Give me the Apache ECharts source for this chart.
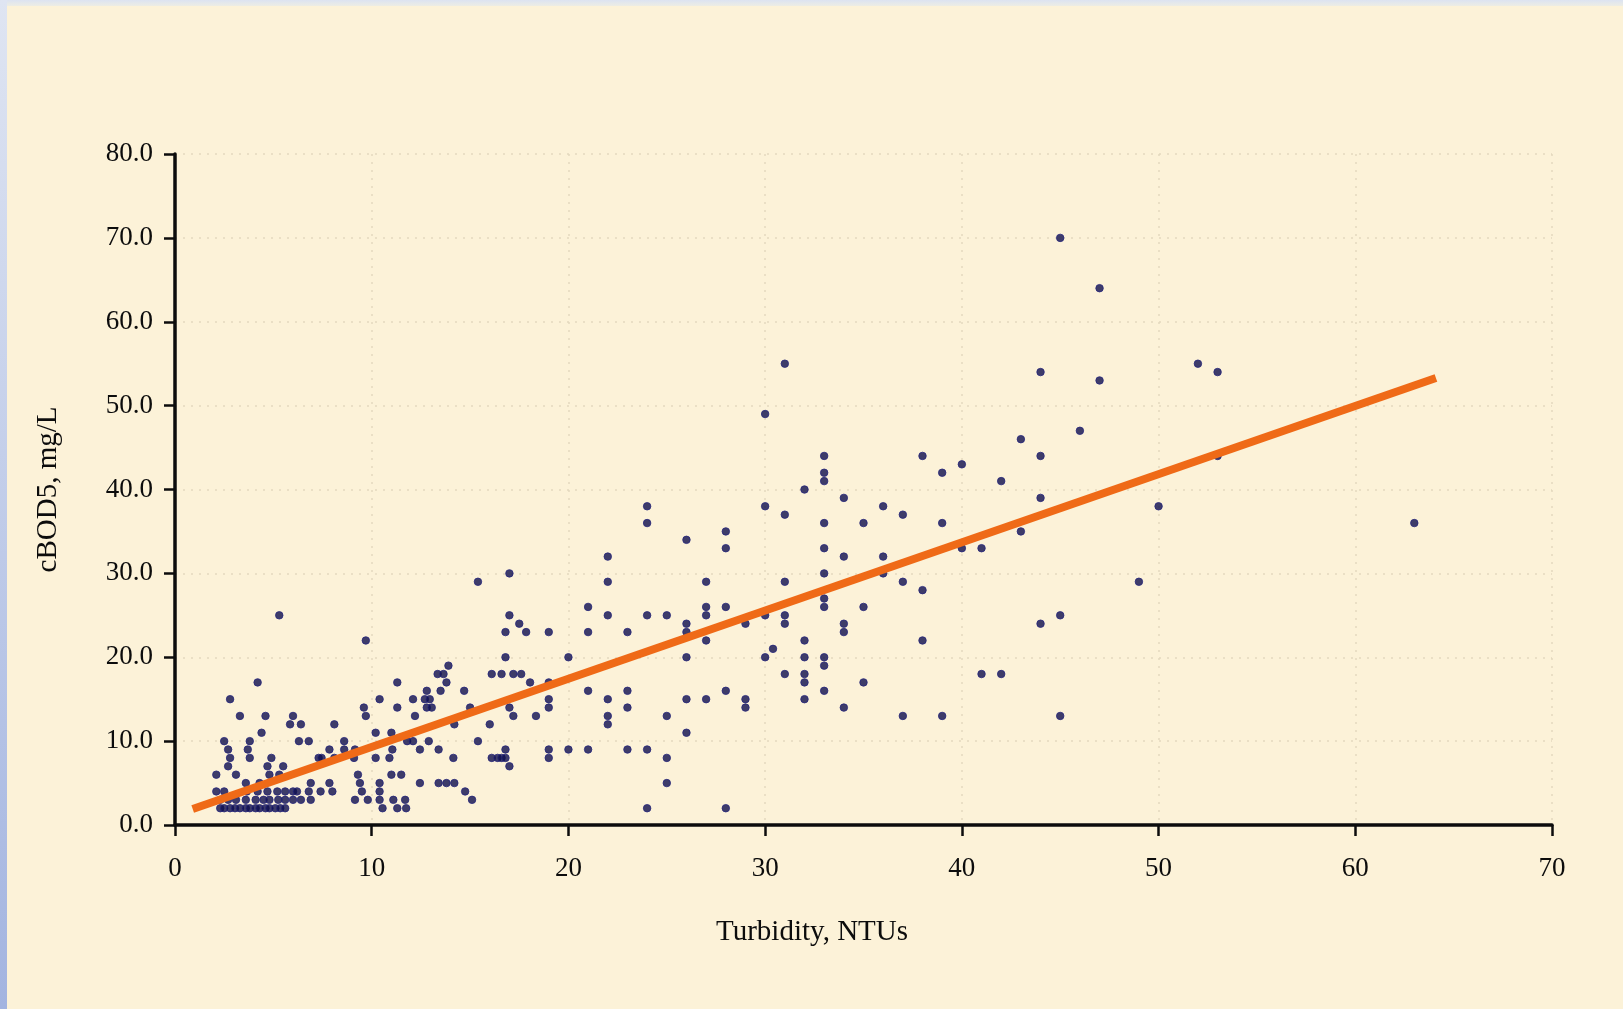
<!DOCTYPE html>
<html>
<head>
<meta charset="utf-8">
<script src="https://cdn.jsdelivr.net/npm/echarts@6/dist/echarts.min.js"></script>
<style>
html,body{margin:0;padding:0;width:1623px;height:1009px;overflow:hidden;background:#FCF2D8;}
#topband{position:absolute;left:0;top:0;width:1623px;height:6px;background:linear-gradient(#DCE3F1,#EDEDE4);}
#leftband{position:absolute;left:0;top:0;width:7px;height:1009px;background:linear-gradient(#DFE5F2,#A3B4E0);}
#chart{position:absolute;left:0;top:0;width:1623px;height:1009px;}
</style>
</head>
<body>
<div id="topband"></div>
<div id="leftband"></div>
<div id="chart"></div>
<script>
const lowTurbidity = [
  [2.1,6],[2.1,4],[2.3,3],[2.3,2],[2.5,10],[2.5,4],[2.5,2],[2.7,9],[2.7,7],[2.8,8],[2.8,15],[2.7,3],[2.8,2],
  [3.05,2],[3.1,6],[3.1,3],[3.3,13],[3.3,2],[3.6,5],[3.6,3],[3.6,2],[3.7,9],[3.8,10],[3.8,8],[3.65,4],[3.8,2],
  [4.1,3],[4.1,2],[4.2,17],[4.2,4],[4.3,5],[4.3,2],[4.4,11],[4.5,3],[4.6,13],[4.6,2],[4.7,7],[4.7,4],[4.8,6],
  [4.8,3],[4.8,2],[4.9,8],[5.1,2],[5.2,4],[5.25,3],[5.3,25],[5.3,6],[5.35,2],[5.5,7],[5.6,4],[5.6,3],[5.6,2],
  [5.85,12],[6.0,13],[6.0,4],[6.0,3],[6.2,4],[6.3,10],[6.4,12],[6.4,3],[6.8,10],[6.9,3],[6.9,5],[6.8,4]
];
const midTurbidity = [
  [7.3,8],[7.45,8],[7.4,4],[7.85,9],[7.85,5],[8.0,4],[8.1,12],[8.1,8],[8.6,10],[8.6,9],[9.1,8],[9.15,9],
  [9.15,3],[9.3,6],[9.4,5],[9.5,4],[9.6,14],[9.7,13],[9.7,22],[9.8,3],[10.2,11],[10.2,8],[10.4,15],[10.4,5],
  [10.4,4],[10.4,3],[10.55,2],[10.9,8],[11.0,11],[11.0,6],[11.05,9],[11.1,3],[11.3,17],[11.3,14],[11.3,2],
  [11.5,6],[11.7,3],[11.75,2],[11.8,10],[12.1,10],[12.1,15],[12.2,13],[12.45,9],[12.45,5],[12.7,15],[12.8,16],
  [12.8,14],[12.9,10],[12.95,15],[13.05,14],[13.35,18],[13.4,9],[13.4,5],[13.5,16],[13.65,18],[13.8,17],
  [13.8,5],[13.9,19],[14.15,8],[14.2,12],[14.2,5],[14.7,16],[14.75,4],[15.0,14],[15.1,3],[15.4,10],[15.4,29]
];
const highTurbidity = [
  [16.0,12],[16.1,18],[16.6,18],[17.2,18],[17.6,18],[16.8,23],[16.8,20],[16.8,9],[16.1,8],[16.4,8],[16.6,8],
  [16.8,8],[17.0,14],[17.0,7],[17.0,25],[17.0,30],[17.2,13],[17.5,24],[17.85,23],[18.05,17],[18.35,13],
  [19,23],[19,17],[19,15],[19,14],[19,9],[19,8],[20,20],[20,9],[21,26],[21,23],[21,16],[21,9],
  [22,32],[22,29],[22,25],[22,15],[22,13],[22,12],[23,23],[23,16],[23,14],[23,9],[24,38],[24,36],[24,25],
  [24,9],[24,2],[25,25],[25,13],[25,8],[25,5],[26,34],[26,24],[26,23],[26,20],[26,15],[26,11],
  [27,29],[27,26],[27,25],[27,22],[27,15],[28,35],[28,33],[28,26],[28,16],[28,2],[29,24],[29,15],[29,14]
];
const veryHighTurbidity = [
  [30,49],[30,38],[30,25],[30,20],[30.4,21],[31,55],[31,37],[31,29],[31,25],[31,24],[31,18],
  [32,40],[32,22],[32,20],[32,18],[32,17],[32,15],[33,44],[33,42],[33,41],[33,36],[33,33],[33,30],
  [33,27],[33,26],[33,20],[33,19],[33,16],[34,39],[34,32],[34,24],[34,23],[34,14],[35,36],[35,26],
  [35,17],[36,38],[36,32],[36,30],[37,37],[37,29],[37,13],[38,44],[38,28],[38,22],[39,42],[39,36],
  [39,13],[40,43],[40,33],[41,33],[41,18],[42,41],[42,18],[43,46],[43,35],[44,54],[44,44],[44,39],
  [44,24],[45,70],[45,25],[45,13],[46,47],[47,64],[47,53],[49,29],[50,38],[52,55],[53,54],[53,44],[63,36]
];
// Trend line end points
const trendTurbidity = [0.9, 64.1];
const trendCbod = [1.9, 53.3];
// Axes
const xAxisRange = [0, 70];
const yAxisRange = [0, 80];
const tickStep = 10;
const xTitle = 'Turbidity, NTUs';
const yTitle = 'cBOD5, mg/L';

const allPoints = lowTurbidity.concat(midTurbidity, highTurbidity, veryHighTurbidity);
const trendData = trendTurbidity.map((x, i) => [x, trendCbod[i]]);

const serif = "'Liberation Serif', 'DejaVu Serif', serif";
const ink = '#0c0c0c';
const gridDots = { color: '#E4D9BE', type: [2, 6], width: 1.5 };

const chart = echarts.init(document.getElementById('chart'), null, { renderer: 'canvas' });
chart.setOption({
  animation: false,
  backgroundColor: 'transparent',
  grid: { left: 175, right: 71, top: 154, bottom: 184, containLabel: false },
  xAxis: {
    type: 'value', min: xAxisRange[0], max: xAxisRange[1], interval: tickStep,
    axisLine: { show: true, onZero: false, lineStyle: { color: ink, width: 3.5 } },
    axisTick: { show: true, inside: false, length: 11, lineStyle: { color: ink, width: 2.5 } },
    axisLabel: { fontFamily: serif, fontSize: 27, color: ink, margin: 30 },
    splitLine: { show: true, lineStyle: gridDots }
  },
  yAxis: {
    type: 'value', min: yAxisRange[0], max: yAxisRange[1], interval: tickStep,
    name: yTitle, nameLocation: 'middle', nameGap: 112,
    nameTextStyle: { fontFamily: serif, fontSize: 29, color: ink },
    axisLine: { show: true, onZero: false, lineStyle: { color: ink, width: 3.5 } },
    axisTick: { show: true, inside: false, length: 11, lineStyle: { color: ink, width: 2.5 } },
    axisLabel: { fontFamily: serif, fontSize: 27, color: ink, margin: 22, formatter: v => v.toFixed(1) },
    splitLine: { show: true, lineStyle: gridDots }
  },
  graphic: [{
    type: 'text', x: 812, y: 932,
    style: { text: xTitle, font: "29px 'Liberation Serif', serif", fill: ink, align: 'center', verticalAlign: 'middle' }
  }],
  series: [
    {
      type: 'scatter', data: allPoints, symbol: 'circle', symbolSize: 7.5, z: 2,
      itemStyle: { color: '#0E0E4E', borderColor: '#25257A', borderWidth: 1 }
    },
    {
      type: 'line', data: trendData, showSymbol: false, symbol: 'none', z: 3,
      lineStyle: { color: '#EF6A17', width: 8, cap: 'butt' }
    }
  ]
});
</script>
</body>
</html>
